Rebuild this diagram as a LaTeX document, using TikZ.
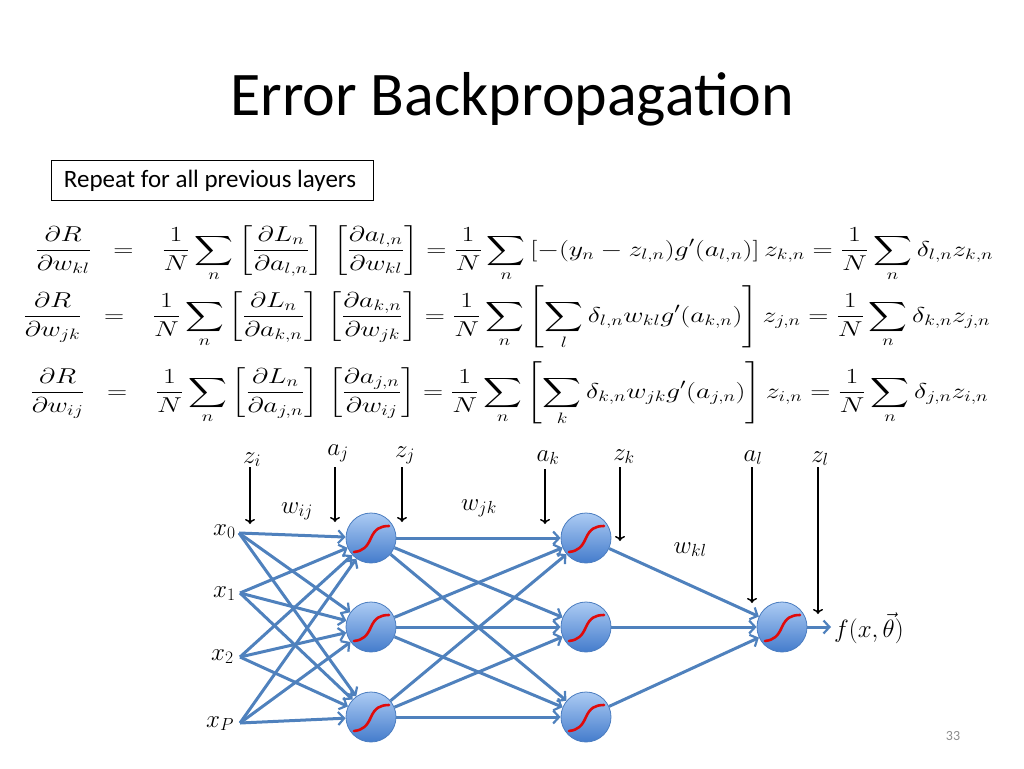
\documentclass[tikz,border=0pt]{standalone}
\usepackage{fix-cm}
\usepackage{amsmath}
\usepackage{graphicx}
\usepackage{fontspec}
\setmainfont{Carlito}
\usetikzlibrary{arrows.meta}
\definecolor{edgeblue}{RGB}{79,129,189}
\definecolor{nodeborder}{RGB}{75,125,192}
\definecolor{nodetop}{RGB}{172,203,243}
\definecolor{nodebot}{RGB}{68,124,204}
\definecolor{sigred}{RGB}{225,10,10}
\definecolor{pagegray}{RGB}{140,140,140}
\tikzset{
  lab/.style={inner sep=0pt, font=\fontsize{25}{30}\selectfont},
  eqrow/.style={inner sep=0pt, anchor=base west, font=\fontsize{21.5}{25}\selectfont},
  edge/.style={draw=edgeblue, line width=3pt, -{Straight Barb[length=6pt,width=13pt,line width=2.2pt]}},
  vec/.style={draw=black, line width=1.4pt, -{To[length=5pt,width=10pt]}},
  neuron/.style={circle, minimum size=50pt, inner sep=0pt, draw=nodeborder, line width=0.8pt,
    top color=nodetop, bottom color=nodebot,
    path picture={
      \draw[sigred, line width=2.6pt, line cap=round]
        ([shift={(-17pt,-14pt)}]path picture bounding box.center)
        .. controls ([shift={(-8pt,-13pt)}]path picture bounding box.center)
        and ([shift={(-4pt,-9pt)}]path picture bounding box.center)
        .. ([shift={(0pt,0pt)}]path picture bounding box.center)
        .. controls ([shift={(4pt,9pt)}]path picture bounding box.center)
        and ([shift={(9pt,12pt)}]path picture bounding box.center)
        .. ([shift={(18pt,12pt)}]path picture bounding box.center);
    }},
}
\newcommand{\eqgap}[1]{\hspace{17pt}{=}\hspace{22pt}}
\begin{document}
\begin{tikzpicture}[x=1pt,y=-1pt]
\useasboundingbox (0,0) rectangle (1024,768);

% title
\node[inner sep=0pt, anchor=base, font=\fontsize{62}{70}\selectfont] (title) at (512,115) {Error Backpropagation};

% box
\draw[line width=1pt] (51,160) rectangle (373,200);
\node[inner sep=0pt, anchor=base, font=\fontsize{25}{30}\selectfont] (repeat) at (210,187) {Repeat for all previous layers};

% equations
\node[eqrow] (eq1) at (35,256) {\resizebox{958pt}{\height}{$\displaystyle
 \frac{\partial R}{\partial w_{kl}}\eqgap{}
 \frac{1}{N}\sum_n\left[\frac{\partial L_n}{\partial a_{l,n}}\right]\,\left[\frac{\partial a_{l,n}}{\partial w_{kl}}\right]
 =\frac{1}{N}\sum_n\left[-(y_n-z_{l,n})g'(a_{l,n})\right]z_{k,n}
 =\frac{1}{N}\sum_n\delta_{l,n}z_{k,n}$}};
\node[eqrow] (eq2) at (23,322) {\resizebox{967pt}{\height}{$\displaystyle
 \frac{\partial R}{\partial w_{jk}}\eqgap{}
 \frac{1}{N}\sum_n\left[\frac{\partial L_n}{\partial a_{k,n}}\right]\,\left[\frac{\partial a_{k,n}}{\partial w_{jk}}\right]
 =\frac{1}{N}\sum_n\left[\sum_l\delta_{l,n}w_{kl}g'(a_{k,n})\right]z_{j,n}
 =\frac{1}{N}\sum_n\delta_{k,n}z_{j,n}$}};
\node[eqrow] (eq3) at (30,398) {\resizebox{958pt}{\height}{$\displaystyle
 \frac{\partial R}{\partial w_{ij}}\eqgap{}
 \frac{1}{N}\sum_n\left[\frac{\partial L_n}{\partial a_{j,n}}\right]\,\left[\frac{\partial a_{j,n}}{\partial w_{ij}}\right]
 =\frac{1}{N}\sum_n\left[\sum_k\delta_{k,n}w_{jk}g'(a_{j,n})\right]z_{i,n}
 =\frac{1}{N}\sum_n\delta_{j,n}z_{i,n}$}};

% neurons
\node[neuron] (j1) at (371,538) {};
\node[neuron] (j2) at (371,627) {};
\node[neuron] (j3) at (371,717) {};
\node[neuron] (k1) at (586,538) {};
\node[neuron] (k2) at (586,627) {};
\node[neuron] (k3) at (586,717) {};
\node[neuron] (l1) at (782,627) {};

% inputs
\node[lab, anchor=base west] (x0) at (213,535) {$x_0$};
\node[lab, anchor=base west] (x1) at (213,597) {$x_1$};
\node[lab, anchor=base west] (x2) at (211,660) {$x_2$};
\node[lab, anchor=base west] (xP) at (206,727) {$x_P$};
\coordinate (i0) at (239,533);
\coordinate (i1) at (240,593);
\coordinate (i2) at (240,657);
\coordinate (iP) at (240,723);

% input -> hidden 1
\foreach \s in {i0,i1,i2,iP}
  \foreach \t in {j1,j2,j3}
    \draw[edge] (\s) -- (\t);
% hidden 1 -> hidden 2
\foreach \s in {j1,j2,j3}
  \foreach \t in {k1,k2,k3}
    \draw[edge] (\s) -- (\t);
% hidden 2 -> output
\foreach \s in {k1,k2,k3}
  \draw[edge] (\s) -- (l1);
\coordinate (out) at (831,627);
\draw[edge] (l1) -- (out);
\node[lab, anchor=base west] (f) at (834,637) {$f(x,\vec{\theta})$};

% vertical arrows with labels
\node[lab, anchor=base] (zi) at (252,463) {$z_i$};
\node[lab, anchor=base] (aj) at (338,455) {$a_j$};
\node[lab, anchor=base] (zj) at (405,457) {$z_j$};
\node[lab, anchor=base] (ak) at (548,461) {$a_k$};
\node[lab, anchor=base] (zk) at (624,460) {$z_k$};
\node[lab, anchor=base] (al) at (753,461) {$a_l$};
\node[lab, anchor=base] (zl) at (820,462) {$z_l$};
\coordinate (zi1) at (250,467); \coordinate (zi2) at (250,524);
\coordinate (aj1) at (335,467); \coordinate (aj2) at (335,522);
\coordinate (zj1) at (402,467); \coordinate (zj2) at (402,522);
\coordinate (ak1) at (545,469); \coordinate (ak2) at (545,524);
\coordinate (zk1) at (620,467); \coordinate (zk2) at (620,541);
\coordinate (al1) at (752,467); \coordinate (al2) at (752,603);
\coordinate (zl1) at (818,467); \coordinate (zl2) at (818,614);
\draw[vec] (zi1) -- (zi2);
\draw[vec] (aj1) -- (aj2);
\draw[vec] (zj1) -- (zj2);
\draw[vec] (ak1) -- (ak2);
\draw[vec] (zk1) -- (zk2);
\draw[vec] (al1) -- (al2);
\draw[vec] (zl1) -- (zl2);

% weight labels
\node[lab, anchor=base] (wij) at (297,513) {$w_{ij}$};
\node[lab, anchor=base] (wjk) at (479,510) {$w_{jk}$};
\node[lab, anchor=base] (wkl) at (690,553) {$w_{kl}$};

% page number
\node[inner sep=0pt, anchor=base, text=pagegray, font=\fontsize{14}{16}\selectfont] (page) at (953,740) {33};
\end{tikzpicture}
\end{document}
